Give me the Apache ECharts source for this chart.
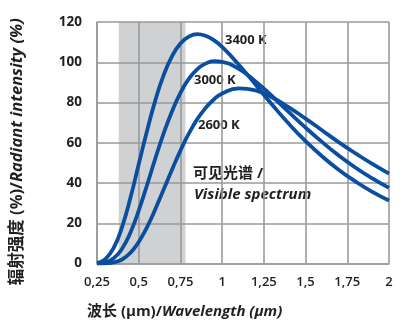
<!DOCTYPE html>
<html><head><meta charset="utf-8">
<script src="https://cdn.jsdelivr.net/npm/echarts@6/dist/echarts.min.js"></script>
<style>html,body{margin:0;padding:0;background:#fff}#c{width:406px;height:325px}</style>
</head><body><div id="c"></div>
<script>
const wavelengths = [0.25,0.3,0.35,0.4,0.45,0.5,0.55,0.6,0.65,0.7,0.75,0.8,0.85,0.9,0.95,1.0,1.1,1.2,1.3,1.4,1.5,1.6,1.7,1.8,1.9,2.0];
const i3400 = [0.3,2.2,7.8,18.1,32.5,49.3,66,81.2,93.7,103,109.3,112.7,114,113.2,111,107.6,98.8,88.9,78.9,69.4,60.8,53.2,46.5,40.7,35.6,31.3];
const i3000 = [0.1,0.6,2.6,7.3,15.3,26.3,39,52.3,64.8,75.7,84.8,91.7,96.5,99.3,100.5,100.2,96.7,90.5,83.1,75.2,67.5,60.3,53.6,47.6,42.3,37.6];
const i2600 = [0,0.1,0.6,2,5.3,10.7,18.1,27.1,36.9,46.7,56.1,64.5,71.6,77.2,81.5,84.5,87,86,82.5,77.6,72,66.1,60.2,54.7,49.5,44.7];
const seriesNames = ['3400 K','3000 K','2600 K'];
const visibleBand = [0.38, 0.78];
const yTicks = [0,20,40,60,80,100,120];
const xTicks = [0.25,0.5,0.75,1,1.25,1.5,1.75,2];

const FONT = '"Open Sans", "Noto Sans CJK SC", sans-serif';
const TXT = '#231f20';
const BLUE = '#0a4f9f';
const GRIDC = '#9a9a9a';
const pair = arr => wavelengths.map((w,i)=>[w,arr[i]]);

const chart = echarts.init(document.getElementById('c'), null, {renderer:'canvas'});
const lineStyle = {color: BLUE, width: 3.8};
const gl = {show:true,lineStyle:{color:GRIDC,width:1.6,type:'solid',opacity:1}};
chart.setOption({
  animation:false,
  backgroundColor:'#ffffff',
  grid:{left:97,right:17,top:22,bottom:61.5,containLabel:false},
  xAxis:{type:'value',min:0.25,max:2,interval:0.25,
    axisLine:gl, axisTick:{show:false}, splitLine:gl,
    axisLabel:{margin:12,fontFamily:FONT,fontSize:13,fontWeight:600,color:TXT,
      formatter:v=>String(v).replace('.',',')}
  },
  yAxis:{type:'value',min:0,max:120,interval:20,
    axisLine:gl, axisTick:{show:false}, splitLine:gl,
    axisLabel:{margin:15,fontFamily:FONT,fontSize:13.5,fontWeight:700,color:TXT},
    name:'{a|辐射强度 (%)/}{b|Radiant intensity (%)}',
    nameLocation:'middle',nameRotate:90,nameGap:71,
    nameTextStyle:{padding:[0,0,0,-18],rich:{
      a:{fontFamily:FONT,fontSize:16.5,fontWeight:700,color:TXT},
      b:{fontFamily:FONT,fontSize:16.5,fontWeight:700,fontStyle:'italic',color:TXT}}}
  },
  graphic:[
    {type:'text',left:87,top:304,style:{rich:{
      a:{fontFamily:FONT,fontSize:15,fontWeight:700,fill:TXT},
      b:{fontFamily:FONT,fontSize:15,fontWeight:700,fontStyle:'italic',fill:TXT}},
      text:'{a|波长 (µm)/}{b|Wavelength (µm)}'}},
    {type:'text',left:225,top:34,style:{text:seriesNames[0],font:'700 13px '+FONT,fill:TXT}},
    {type:'text',left:194,top:74,style:{text:seriesNames[1],font:'700 13px '+FONT,fill:TXT}},
    {type:'text',left:198,top:119,style:{text:seriesNames[2],font:'700 13px '+FONT,fill:TXT}},
    {type:'text',left:193,top:166,style:{text:'可见光谱 /',font:'700 15px '+FONT,fill:TXT}},
    {type:'text',left:194,top:187,style:{text:'Visible spectrum',font:'italic 700 15px '+FONT,fill:TXT}}
  ],
  series:[
    {name:seriesNames[0],type:'line',data:pair(i3400),smooth:true,showSymbol:false,lineStyle,
      markArea:{silent:true,itemStyle:{color:'rgba(150,152,156,0.45)'},data:[[{xAxis:visibleBand[0]},{xAxis:visibleBand[1]}]]}},
    {name:seriesNames[1],type:'line',data:pair(i3000),smooth:true,showSymbol:false,lineStyle},
    {name:seriesNames[2],type:'line',data:pair(i2600),smooth:true,showSymbol:false,lineStyle}
  ]
});
</script></body></html>
